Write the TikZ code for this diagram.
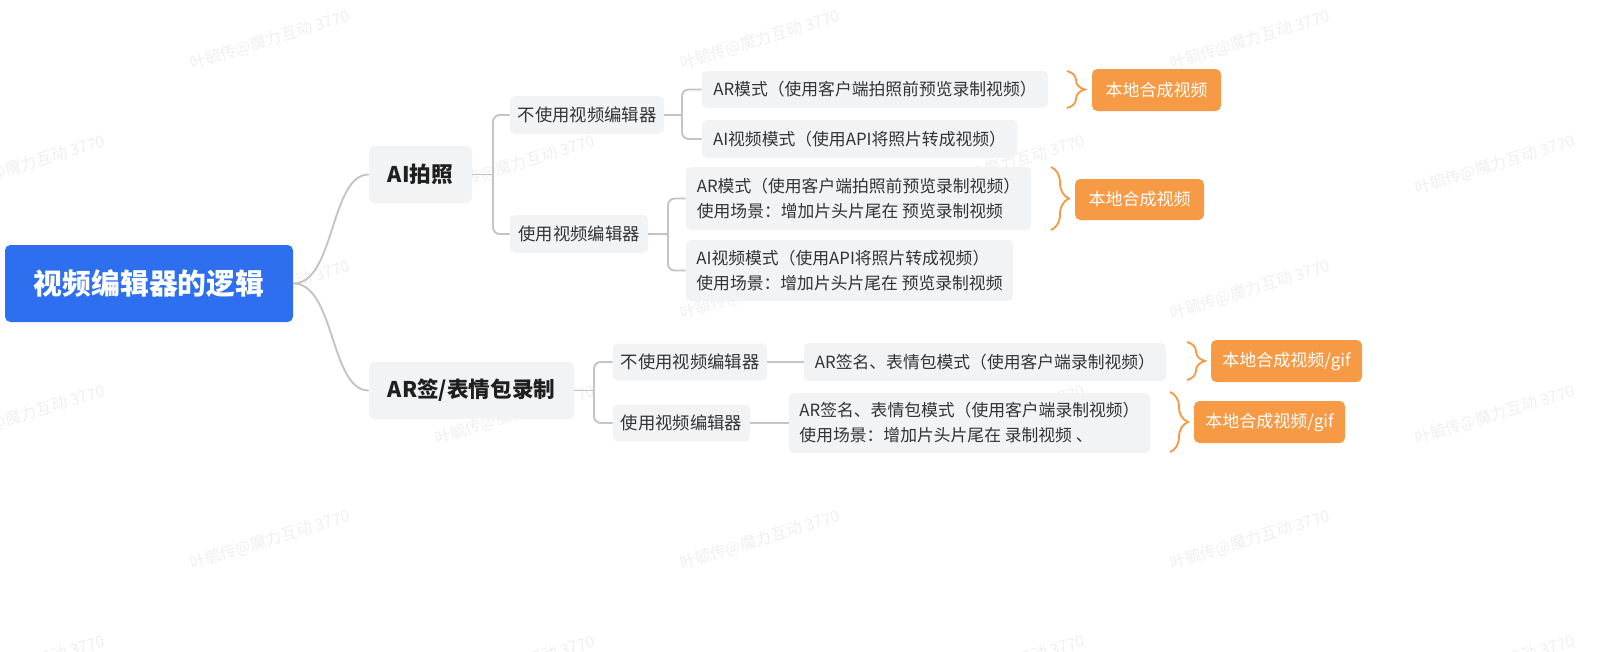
\documentclass[tikz,border=0pt]{standalone}
\usepackage{fontspec}
\setmainfont{Noto Sans CJK SC}
\usetikzlibrary{decorations.pathreplacing}
\definecolor{rootblue}{HTML}{2D6FEE}
\definecolor{nodegray}{HTML}{F2F3F5}
\definecolor{linegray}{HTML}{C4C4C4}
\definecolor{orangebox}{HTML}{F79A45}
\definecolor{textdark}{HTML}{1F1F1F}
\definecolor{leaftext}{HTML}{333333}
\definecolor{wmgray}{HTML}{F0F0F0}
\begin{document}
\begin{tikzpicture}[x=0.75pt,y=-0.75pt,
  wm/.style={text=wmgray, rotate=17, font=\fontsize{12pt}{14pt}\selectfont},
  rootnode/.style={fill=rootblue, text=white, rounded corners=4pt, inner sep=2pt,
    font=\fontsize{21.6pt}{26pt}\selectfont\bfseries},
  mainnode/.style={fill=nodegray, text=textdark, rounded corners=4pt, inner sep=2pt,
    minimum height=42.75pt, font=\fontsize{16.2pt}{20pt}\selectfont\bfseries},
  subnode/.style={fill=nodegray, text=leaftext, rounded corners=3.5pt, inner sep=2pt,
    font=\fontsize{13pt}{18pt}\selectfont},
  leafnode/.style={fill=nodegray, text=leaftext, rounded corners=3.5pt, inner sep=2pt, align=left,
    font=\fontsize{12.6pt}{18.75pt}\selectfont},
  sumnode/.style={fill=orangebox, text=white, rounded corners=4pt, inner sep=2pt,
    font=\fontsize{12.75pt}{16pt}\selectfont},
  conn/.style={draw=linegray, line width=1.4pt},
  elbow/.style={conn, rounded corners=5pt},
  sumbrace/.style={draw=orangebox, line width=1.4pt, decorate,
    decoration={brace, amplitude=13.5pt}},
]
\useasboundingbox (0,0) rectangle (1600,651);
\fill[white] (0,0) rectangle (1600,651);

% watermarks
\foreach \x in {270,760,1250} \foreach \y in {40,290,540}
  {\node[wm] at (\x,\y) {叶毓传@魔力互动 3770};}
\foreach \x in {25,515,1005,1495} \foreach \y in {165,415,665}
  {\node[wm] at (\x,\y) {叶毓传@魔力互动 3770};}

% nodes
\node[rootnode, minimum width=216pt, minimum height=57.75pt] (root) at (149,283.5) {视频编辑器的逻辑};
\node[mainnode, minimum width=77.25pt] (ai) at (420.5,174.5) {AI拍照};
\node[mainnode, minimum width=153.75pt] (ar) at (471.5,390.5) {AR签/表情包录制};

\node[subnode, minimum width=115.5pt, minimum height=28.5pt] (s1) at (587,115) {不使用视频编辑器};
\node[subnode, minimum width=103.5pt, minimum height=28.5pt] (s2) at (579,234) {使用视频编辑器};
\node[subnode, minimum width=115.5pt, minimum height=27.75pt] (s3) at (690,362) {不使用视频编辑器};
\node[subnode, minimum width=102.75pt, minimum height=27.75pt] (s4) at (681.5,423) {使用视频编辑器};

\node[leafnode, minimum width=259.5pt, minimum height=27.75pt] (l1) at (875,89.5) {AR模式（使用客户端拍照前预览录制视频）};
\node[leafnode, minimum width=236.25pt, minimum height=28.5pt] (l2) at (859.5,139) {AI视频模式（使用API将照片转成视频）};
\node[leafnode, minimum width=258.75pt, minimum height=47.25pt] (l3) at (858.5,198.5) {AR模式（使用客户端拍照前预览录制视频）\\使用场景：增加片头片尾在 预览录制视频};
\node[leafnode, minimum width=245.25pt, minimum height=45.75pt] (l4) at (849.5,270.5) {AI视频模式（使用API将照片转成视频）\\使用场景：增加片头片尾在 预览录制视频};
\node[leafnode, minimum width=271.5pt, minimum height=28.5pt] (l5) at (985,362) {AR签名、表情包模式（使用客户端录制视频）};
\node[leafnode, minimum width=270.75pt, minimum height=45pt] (l6) at (969.5,423) {AR签名、表情包模式（使用客户端录制视频）\\使用场景：增加片头片尾在 录制视频 、};

\node[sumnode, minimum width=96.75pt, minimum height=31.5pt] (o1) at (1156.5,90) {本地合成视频};
\node[sumnode, minimum width=96.75pt, minimum height=30.75pt] (o2) at (1139.5,199.5) {本地合成视频};
\node[sumnode, minimum width=113.25pt, minimum height=31.5pt] (o3) at (1286.5,361) {本地合成视频/gif};
\node[sumnode, minimum width=113.25pt, minimum height=31.5pt] (o4) at (1269.5,422) {本地合成视频/gif};

% root curves
\draw[conn] (root.east) .. controls (335,283.5) and (330,174.5) .. (ai.west);
\draw[conn] (root.east) .. controls (335,283.5) and (330,390.5) .. (ar.west);

% elbow connectors
\coordinate (j1) at (493,174.5);
\draw[conn] (ai.east) -- (j1);
\draw[elbow] (j1) |- (s1.west);
\draw[elbow] (j1) |- (s2.west);

\coordinate (j2) at (682,115);
\draw[conn] (s1.east) -- (j2);
\draw[elbow] (j2) |- (l1.west);
\draw[elbow] (j2) |- (l2.west);

\coordinate (j3) at (668,234);
\draw[conn] (s2.east) -- (j3);
\draw[elbow] (j3) |- (l3.west);
\draw[elbow] (j3) |- (l4.west);

\coordinate (j4) at (594,390.5);
\draw[conn] (ar.east) -- (j4);
\draw[elbow] (j4) |- (s3.west);
\draw[elbow] (j4) |- (s4.west);

\draw[conn] (s3.east) -- (l5.west);
\draw[conn] (s4.east) -- (l6.west);

% summary braces
\coordinate (b1t) at (1067,71);  \coordinate (b1b) at (1067,108);
\coordinate (b2t) at (1051,167); \coordinate (b2b) at (1051,230);
\coordinate (b3t) at (1187,342); \coordinate (b3b) at (1187,380);
\coordinate (b4t) at (1170,392); \coordinate (b4b) at (1170,452);
\draw[sumbrace] (b1t) -- (b1b);
\draw[sumbrace] (b2t) -- (b2b);
\draw[sumbrace] (b3t) -- (b3b);
\draw[sumbrace] (b4t) -- (b4b);
\end{tikzpicture}
\end{document}
